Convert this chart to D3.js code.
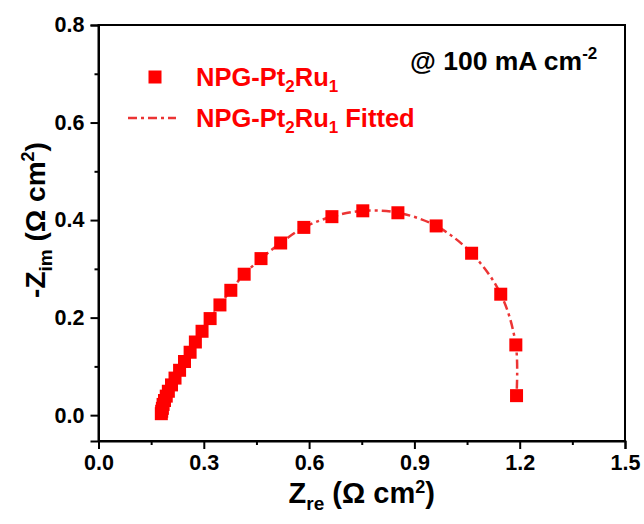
<!DOCTYPE html>
<html>
<head>
<meta charset="utf-8">
<script src="https://cdn.jsdelivr.net/npm/d3@7"></script>
<style>
  html, body { margin: 0; padding: 0; background: #fff; }
  text { font-family: "Liberation Sans", Arial, sans-serif; font-weight: bold; }
</style>
</head>
<body>
<svg id="chart" width="644" height="524"></svg>
<script>
// Nyquist data for NPG-Pt2Ru1 at 100 mA cm-2 (Ω cm²)
const zRe = [0.179, 0.180, 0.182, 0.184, 0.188, 0.193, 0.199, 0.208, 0.218, 0.231,
             0.245, 0.261, 0.276, 0.295, 0.318, 0.346, 0.377, 0.415, 0.463, 0.519,
             0.585, 0.665, 0.753, 0.853, 0.962, 1.063, 1.146, 1.189, 1.191];
const zIm = [0.003, 0.008, 0.014, 0.022, 0.030, 0.039, 0.049, 0.062, 0.076, 0.092,
             0.110, 0.129, 0.150, 0.172, 0.198, 0.226, 0.256, 0.289, 0.321, 0.353,
             0.385, 0.407, 0.419, 0.415, 0.388, 0.332, 0.248, 0.144, 0.040];
const xTicks = [0.0, 0.3, 0.6, 0.9, 1.2, 1.5];
const yTicks = [0.0, 0.2, 0.4, 0.6, 0.8];
const xMinor = [0.15, 0.45, 0.75, 1.05, 1.35];
const yMinor = [0.1, 0.3, 0.5, 0.7];

const points = zRe.map((v, i) => ({ x: v, y: zIm[i] }));

const svg = d3.select("#chart");
const plotBox = { left: 98.5, right: 625, top: 25, bottom: 441 };

const x = d3.scaleLinear().domain([0, 1.5]).range([plotBox.left, plotBox.right]);
const y = d3.scaleLinear().domain([-0.053, 0.8]).range([plotBox.bottom, plotBox.top]);

const markerColor = "#ff0000";
const lineColor = "#ec3434";

// frame
svg.append("rect")
  .attr("x", plotBox.left).attr("y", plotBox.top)
  .attr("width", plotBox.right - plotBox.left).attr("height", plotBox.bottom - plotBox.top)
  .attr("fill", "none").attr("stroke", "#000").attr("stroke-width", 2);

// x axis
svg.append("g").attr("transform", `translate(0,${plotBox.bottom})`)
  .call(d3.axisBottom(x).tickValues(xTicks).tickFormat(d3.format(".1f")).tickSize(8).tickPadding(6));
svg.append("g").attr("transform", `translate(0,${plotBox.bottom})`)
  .call(d3.axisBottom(x).tickValues(xMinor).tickFormat("").tickSize(4))
  .call(g => g.select(".domain").remove());

// y axis
svg.append("g").attr("transform", `translate(${plotBox.left},0)`)
  .call(d3.axisLeft(y).tickValues(yTicks).tickFormat(d3.format(".1f")).tickSize(8).tickPadding(6));
svg.append("g").attr("transform", `translate(${plotBox.left},0)`)
  .call(d3.axisLeft(y).tickValues(yMinor).tickFormat("").tickSize(4))
  .call(g => g.select(".domain").remove());

svg.selectAll(".domain").attr("stroke-width", 2);
svg.selectAll(".tick line").attr("stroke-width", 2);
svg.selectAll(".tick text")
  .attr("font-size", 21.5).attr("fill", "#000")
  .attr("font-family", "'Liberation Sans', Arial, sans-serif").attr("font-weight", "bold");

// fitted curve
const line = d3.line().x(d => x(d.x)).y(d => y(d.y)).curve(d3.curveCatmullRom);
svg.append("path")
  .datum(points)
  .attr("d", line)
  .attr("fill", "none")
  .attr("stroke", lineColor)
  .attr("stroke-width", 2.5)
  .attr("stroke-dasharray", "9,4,3,4");

// measured points
const ms = 13;
svg.append("g").selectAll("rect")
  .data(points)
  .join("rect")
  .attr("x", d => x(d.x) - ms / 2)
  .attr("y", d => y(d.y) - ms / 2)
  .attr("width", ms).attr("height", ms)
  .attr("fill", markerColor);

// axis titles
const xt = svg.append("text")
  .attr("x", (plotBox.left + plotBox.right) / 2).attr("y", 503)
  .attr("text-anchor", "middle").attr("font-size", 29).attr("fill", "#000");
xt.append("tspan").text("Z");
xt.append("tspan").attr("font-size", 19).attr("dy", 7).text("re");
xt.append("tspan").attr("dy", -7).text(" (Ω cm");
xt.append("tspan").attr("font-size", 18).attr("dy", -10).text("2");
xt.append("tspan").attr("dy", 10).text(")");

const yt = svg.append("text")
  .attr("transform", "translate(45,220) rotate(-90)")
  .attr("text-anchor", "middle").attr("font-size", 28).attr("fill", "#000");
yt.append("tspan").text("-Z");
yt.append("tspan").attr("font-size", 19).attr("dy", 7).text("im");
yt.append("tspan").attr("dy", -7).text(" (Ω cm");
yt.append("tspan").attr("font-size", 18).attr("dy", -11).text("2");
yt.append("tspan").attr("dy", 11).text(")");

// annotation
const ann = svg.append("text")
  .attr("x", 410).attr("y", 70).attr("font-size", 26.5).attr("fill", "#000");
ann.append("tspan").text("@ 100 mA cm");
ann.append("tspan").attr("font-size", 17).attr("dy", -11).text("-2");

// legend
const leg = svg.append("g");
leg.append("rect").attr("x", 155 - ms / 2).attr("y", 77 - ms / 2)
  .attr("width", ms).attr("height", ms).attr("fill", markerColor);
const l1 = leg.append("text").attr("x", 196).attr("y", 86).attr("font-size", 25.5).attr("fill", markerColor);
l1.append("tspan").text("NPG-Pt");
l1.append("tspan").attr("font-size", 17).attr("dy", 6).text("2");
l1.append("tspan").attr("dy", -6).text("Ru");
l1.append("tspan").attr("font-size", 17).attr("dy", 6).text("1");

leg.append("line").attr("x1", 128).attr("x2", 176).attr("y1", 118).attr("y2", 118)
  .attr("stroke", lineColor).attr("stroke-width", 2.5).attr("stroke-dasharray", "9,4,3,4");
const l2 = leg.append("text").attr("x", 196).attr("y", 127).attr("font-size", 25.5).attr("fill", markerColor);
l2.append("tspan").text("NPG-Pt");
l2.append("tspan").attr("font-size", 17).attr("dy", 6).text("2");
l2.append("tspan").attr("dy", -6).text("Ru");
l2.append("tspan").attr("font-size", 17).attr("dy", 6).text("1");
l2.append("tspan").attr("dy", -6).text(" Fitted");
</script>
</body>
</html>
